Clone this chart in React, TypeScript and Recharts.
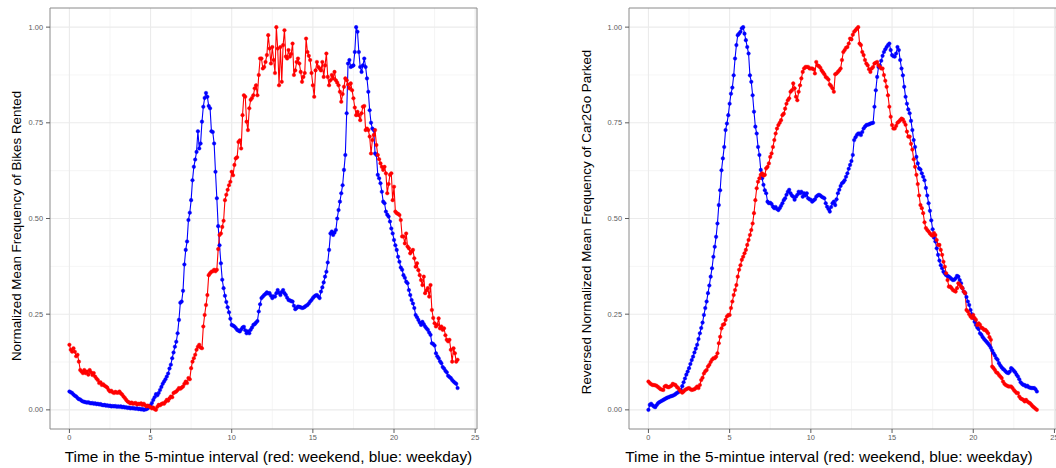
import { CartesianGrid, Label, Line, LineChart, ReferenceArea, XAxis, YAxis } from "recharts";

// 5-minute bins, 12 per hour, hours 0..23 (one row = one hour)
const BIKE_WEEKDAY = [
  0.048, 0.046, 0.044, 0.040, 0.037, 0.035, 0.031, 0.028, 0.027, 0.024, 0.022, 0.021,
  0.020, 0.019, 0.020, 0.018, 0.017, 0.018, 0.016, 0.017, 0.015, 0.016, 0.014, 0.015,
  0.013, 0.012, 0.013, 0.011, 0.012, 0.010, 0.011, 0.009, 0.010, 0.009, 0.010, 0.008,
  0.009, 0.008, 0.009, 0.007, 0.008, 0.006, 0.007, 0.005, 0.006, 0.004, 0.005, 0.004,
  0.004, 0.003, 0.004, 0.002, 0.003, 0.001, 0.002, 0.000, 0.001, 0.002, 0.004, 0.008,
  0.012, 0.018, 0.026, 0.033, 0.041, 0.038, 0.044, 0.052, 0.060, 0.068, 0.074, 0.080,
  0.087, 0.095, 0.108, 0.118, 0.135, 0.150, 0.165, 0.178, 0.200, 0.235, 0.280, 0.283,
  0.311, 0.380, 0.418, 0.440, 0.496, 0.515, 0.548, 0.600, 0.635, 0.654, 0.674, 0.728,
  0.683, 0.696, 0.753, 0.792, 0.815, 0.828, 0.818, 0.794, 0.788, 0.728, 0.726, 0.696,
  0.622, 0.553, 0.480, 0.430, 0.383, 0.340, 0.318, 0.298, 0.282, 0.268, 0.255, 0.238,
  0.222, 0.220, 0.218, 0.214, 0.209, 0.207, 0.205, 0.210, 0.215, 0.217, 0.208, 0.200,
  0.205, 0.200, 0.209, 0.215, 0.222, 0.224, 0.228, 0.232, 0.257, 0.276, 0.292, 0.296,
  0.300, 0.303, 0.307, 0.304, 0.305, 0.298, 0.292, 0.297, 0.296, 0.305, 0.313, 0.306,
  0.300, 0.308, 0.313, 0.305, 0.300, 0.293, 0.287, 0.286, 0.284, 0.283, 0.272, 0.263,
  0.266, 0.270, 0.269, 0.268, 0.266, 0.267, 0.269, 0.272, 0.274, 0.278, 0.283, 0.287,
  0.292, 0.296, 0.299, 0.300, 0.296, 0.292, 0.309, 0.320, 0.333, 0.348, 0.361, 0.385,
  0.418, 0.461, 0.466, 0.457, 0.463, 0.470, 0.500, 0.522, 0.544, 0.566, 0.587, 0.627,
  0.666, 0.775, 0.905, 0.914, 0.896, 0.898, 0.900, 0.935, 1.000, 0.988, 0.935, 0.896,
  0.883, 0.900, 0.918, 0.896, 0.866, 0.831, 0.783, 0.750, 0.735, 0.731, 0.670, 0.666,
  0.614, 0.605, 0.592, 0.570, 0.544, 0.540, 0.518, 0.510, 0.505, 0.492, 0.474, 0.461,
  0.444, 0.430, 0.418, 0.400, 0.387, 0.372, 0.366, 0.352, 0.345, 0.335, 0.331, 0.313,
  0.300, 0.287, 0.278, 0.266, 0.248, 0.242, 0.235, 0.228, 0.222, 0.230, 0.224, 0.218,
  0.213, 0.209, 0.202, 0.196, 0.174, 0.172, 0.168, 0.148, 0.140, 0.135, 0.127, 0.122,
  0.112, 0.108, 0.102, 0.098, 0.089, 0.086, 0.083, 0.078, 0.074, 0.071, 0.068, 0.057,
];

const BIKE_WEEKEND = [
  0.170, 0.157, 0.152, 0.161, 0.152, 0.140, 0.144, 0.126, 0.104, 0.100, 0.096, 0.104,
  0.096, 0.100, 0.092, 0.104, 0.098, 0.091, 0.096, 0.087, 0.082, 0.078, 0.070, 0.072,
  0.065, 0.067, 0.063, 0.061, 0.058, 0.052, 0.048, 0.050, 0.046, 0.044, 0.047, 0.045,
  0.045, 0.048, 0.043, 0.040, 0.035, 0.031, 0.026, 0.022, 0.020, 0.017, 0.019, 0.016,
  0.017, 0.018, 0.014, 0.016, 0.015, 0.017, 0.013, 0.016, 0.012, 0.009, 0.011, 0.009,
  0.007, 0.004, 0.006, 0.002, 0.000, 0.008, 0.013, 0.012, 0.015, 0.017, 0.016, 0.021,
  0.026, 0.024, 0.030, 0.035, 0.033, 0.044, 0.046, 0.048, 0.052, 0.057, 0.055, 0.058,
  0.061, 0.068, 0.074, 0.070, 0.083, 0.080, 0.109, 0.126, 0.135, 0.144, 0.157, 0.165,
  0.170, 0.163, 0.161, 0.218, 0.248, 0.274, 0.300, 0.352, 0.357, 0.361, 0.362, 0.366,
  0.362, 0.366, 0.420, 0.457, 0.461, 0.478, 0.494, 0.548, 0.562, 0.575, 0.587, 0.596,
  0.622, 0.613, 0.640, 0.657, 0.660, 0.700, 0.704, 0.683, 0.770, 0.822, 0.818, 0.753,
  0.731, 0.788, 0.810, 0.815, 0.822, 0.840, 0.848, 0.822, 0.875, 0.918, 0.918, 0.892,
  0.896, 0.909, 0.927, 0.979, 0.944, 0.905, 0.948, 0.914, 0.880, 1.000, 0.944, 0.848,
  0.948, 0.857, 0.953, 0.992, 0.923, 0.918, 0.940, 0.923, 0.930, 0.957, 0.875, 0.887,
  0.909, 0.918, 0.905, 0.883, 0.857, 0.870, 0.880, 0.970, 0.935, 0.925, 0.914, 0.880,
  0.848, 0.818, 0.887, 0.909, 0.896, 0.892, 0.887, 0.909, 0.870, 0.900, 0.931, 0.870,
  0.848, 0.861, 0.875, 0.866, 0.883, 0.861, 0.855, 0.848, 0.831, 0.805, 0.825, 0.844,
  0.866, 0.861, 0.850, 0.840, 0.853, 0.835, 0.814, 0.790, 0.770, 0.779, 0.770, 0.757,
  0.775, 0.792, 0.794, 0.731, 0.735, 0.731, 0.714, 0.670, 0.705, 0.718, 0.731, 0.692,
  0.666, 0.655, 0.644, 0.635, 0.627, 0.635, 0.618, 0.566, 0.590, 0.614, 0.618, 0.548,
  0.583, 0.518, 0.514, 0.512, 0.509, 0.496, 0.453, 0.453, 0.435, 0.461, 0.427, 0.422,
  0.409, 0.414, 0.418, 0.396, 0.374, 0.383, 0.365, 0.352, 0.339, 0.326, 0.348, 0.305,
  0.312, 0.318, 0.296, 0.326, 0.261, 0.240, 0.226, 0.218, 0.222, 0.239, 0.213, 0.218,
  0.209, 0.213, 0.195, 0.183, 0.179, 0.183, 0.157, 0.126, 0.161, 0.148, 0.126, 0.131,
];

const CAR_WEEKDAY = [
  0.000, 0.013, 0.016, 0.012, 0.009, 0.007, 0.012, 0.017, 0.020, 0.022, 0.024, 0.026,
  0.028, 0.030, 0.032, 0.033, 0.035, 0.036, 0.037, 0.039, 0.041, 0.044, 0.046, 0.049,
  0.052, 0.062, 0.072, 0.082, 0.092, 0.100, 0.109, 0.120, 0.130, 0.139, 0.150, 0.160,
  0.170, 0.185, 0.200, 0.214, 0.228, 0.248, 0.266, 0.283, 0.305, 0.325, 0.348, 0.370,
  0.400, 0.426, 0.452, 0.487, 0.535, 0.574, 0.626, 0.657, 0.687, 0.731, 0.748, 0.770,
  0.800, 0.826, 0.842, 0.874, 0.918, 0.953, 0.979, 0.983, 0.988, 0.997, 1.000, 0.983,
  0.966, 0.948, 0.931, 0.874, 0.857, 0.822, 0.779, 0.740, 0.722, 0.687, 0.666, 0.627,
  0.605, 0.588, 0.574, 0.566, 0.544, 0.540, 0.541, 0.538, 0.531, 0.527, 0.530, 0.525,
  0.522, 0.527, 0.533, 0.540, 0.548, 0.553, 0.562, 0.570, 0.575, 0.566, 0.560, 0.557,
  0.549, 0.557, 0.562, 0.570, 0.566, 0.570, 0.557, 0.566, 0.560, 0.566, 0.553, 0.550,
  0.549, 0.544, 0.547, 0.550, 0.557, 0.560, 0.562, 0.560, 0.557, 0.555, 0.553, 0.540,
  0.531, 0.525, 0.518, 0.530, 0.540, 0.544, 0.535, 0.550, 0.566, 0.575, 0.585, 0.592,
  0.595, 0.600, 0.609, 0.618, 0.630, 0.640, 0.650, 0.666, 0.705, 0.712, 0.718, 0.722,
  0.722, 0.718, 0.726, 0.735, 0.740, 0.744, 0.745, 0.746, 0.748, 0.749, 0.750, 0.792,
  0.835, 0.870, 0.896, 0.900, 0.912, 0.925, 0.935, 0.942, 0.948, 0.953, 0.957, 0.940,
  0.927, 0.924, 0.923, 0.931, 0.948, 0.940, 0.914, 0.892, 0.874, 0.844, 0.818, 0.800,
  0.785, 0.775, 0.755, 0.731, 0.705, 0.687, 0.661, 0.644, 0.631, 0.628, 0.618, 0.609,
  0.600, 0.580, 0.560, 0.540, 0.520, 0.495, 0.472, 0.450, 0.440, 0.422, 0.405, 0.390,
  0.378, 0.370, 0.361, 0.356, 0.352, 0.350, 0.348, 0.345, 0.342, 0.339, 0.340, 0.344,
  0.350, 0.348, 0.339, 0.331, 0.318, 0.309, 0.305, 0.295, 0.283, 0.274, 0.261, 0.250,
  0.240, 0.230, 0.222, 0.215, 0.211, 0.200, 0.196, 0.190, 0.185, 0.181, 0.177, 0.173,
  0.168, 0.162, 0.155, 0.148, 0.142, 0.135, 0.131, 0.122, 0.116, 0.111, 0.107, 0.104,
  0.100, 0.097, 0.096, 0.100, 0.109, 0.106, 0.102, 0.098, 0.092, 0.087, 0.080, 0.072,
  0.068, 0.065, 0.065, 0.061, 0.063, 0.059, 0.058, 0.057, 0.057, 0.057, 0.054, 0.048,
];

const CAR_WEEKEND = [
  0.074, 0.070, 0.067, 0.065, 0.065, 0.064, 0.063, 0.060, 0.057, 0.054, 0.053, 0.052,
  0.061, 0.063, 0.060, 0.059, 0.061, 0.063, 0.068, 0.066, 0.065, 0.060, 0.057, 0.052,
  0.048, 0.045, 0.048, 0.052, 0.054, 0.056, 0.057, 0.054, 0.052, 0.053, 0.054, 0.057,
  0.061, 0.057, 0.065, 0.078, 0.084, 0.095, 0.101, 0.104, 0.113, 0.118, 0.125, 0.131,
  0.135, 0.135, 0.139, 0.148, 0.174, 0.191, 0.213, 0.222, 0.224, 0.235, 0.244, 0.248,
  0.248, 0.266, 0.283, 0.300, 0.313, 0.326, 0.348, 0.366, 0.378, 0.392, 0.400, 0.409,
  0.418, 0.431, 0.444, 0.457, 0.470, 0.487, 0.514, 0.548, 0.579, 0.596, 0.605, 0.614,
  0.618, 0.612, 0.614, 0.631, 0.635, 0.644, 0.661, 0.670, 0.687, 0.705, 0.722, 0.735,
  0.744, 0.750, 0.757, 0.770, 0.774, 0.787, 0.800, 0.809, 0.814, 0.831, 0.835, 0.853,
  0.840, 0.818, 0.809, 0.831, 0.848, 0.866, 0.883, 0.892, 0.896, 0.896, 0.896, 0.892,
  0.892, 0.892, 0.890, 0.879, 0.909, 0.900, 0.898, 0.894, 0.887, 0.882, 0.877, 0.870,
  0.867, 0.863, 0.850, 0.846, 0.840, 0.831, 0.877, 0.879, 0.883, 0.887, 0.892, 0.914,
  0.935, 0.940, 0.946, 0.948, 0.957, 0.970, 0.968, 0.980, 0.988, 0.992, 0.996, 1.000,
  0.957, 0.953, 0.935, 0.927, 0.914, 0.905, 0.900, 0.890, 0.883, 0.892, 0.896, 0.905,
  0.907, 0.909, 0.900, 0.896, 0.892, 0.892, 0.875, 0.860, 0.844, 0.822, 0.792, 0.766,
  0.744, 0.735, 0.735, 0.742, 0.750, 0.753, 0.757, 0.761, 0.759, 0.752, 0.745, 0.727,
  0.714, 0.714, 0.695, 0.680, 0.655, 0.635, 0.614, 0.590, 0.560, 0.535, 0.527, 0.514,
  0.490, 0.475, 0.470, 0.466, 0.461, 0.457, 0.455, 0.462, 0.457, 0.444, 0.431, 0.431,
  0.418, 0.405, 0.387, 0.374, 0.357, 0.339, 0.322, 0.322, 0.318, 0.313, 0.311, 0.309,
  0.318, 0.331, 0.327, 0.322, 0.318, 0.309, 0.305, 0.261, 0.257, 0.250, 0.244, 0.240,
  0.248, 0.240, 0.235, 0.222, 0.226, 0.222, 0.215, 0.213, 0.209, 0.209, 0.205, 0.200,
  0.190, 0.183, 0.113, 0.109, 0.104, 0.098, 0.096, 0.091, 0.087, 0.083, 0.074, 0.068,
  0.065, 0.063, 0.061, 0.061, 0.061, 0.057, 0.052, 0.048, 0.044, 0.044, 0.035, 0.030,
  0.028, 0.026, 0.022, 0.026, 0.022, 0.019, 0.017, 0.013, 0.009, 0.006, 0.003, 0.000,
];

const X_TICKS = [0, 5, 10, 15, 20, 25];
const X_MINOR = [2.5, 7.5, 12.5, 17.5, 22.5];
const Y_TICKS = [0, 0.25, 0.5, 0.75, 1];
const Y_MINOR = [0.125, 0.375, 0.625, 0.875];
const X_TITLE = "Time in the 5-mintue interval (red: weekend, blue: weekday)";

// ggplot-style 5% expansion around the data range
const X_DOMAIN: [number, number] = [-1.196, 25.113];
const Y_DOMAIN: [number, number] = [-0.05, 1.05];

const FONT = '"Liberation Sans", Arial, Helvetica, sans-serif';
const RED = "#ff0000";
const BLUE = "#0000ff";
const TICK_GREY = "#5c5c5c";

interface PanelProps {
  weekday: number[];
  weekend: number[];
  yTitle: string;
  width: number;
  yAxisWidth: number;
  marginRight: number;
  yTitleX: number;
  yTitleY: number;
  xTitleX: number;
}

function Panel({ weekday, weekend, yTitle, width, yAxisWidth, marginRight, yTitleX, yTitleY, xTitleX }: PanelProps) {
  const data = weekday.map((v, i) => ({ t: i / 12, weekday: v, weekend: weekend[i] }));

  return (
    <LineChart
      width={width}
      height={468}
      data={data}
      margin={{ top: 8, right: marginRight, bottom: 0, left: 0 }}
      style={{ fontFamily: FONT }}
    >
      <CartesianGrid stroke="#f3f3f3" strokeWidth={0.8} verticalValues={X_MINOR} horizontalValues={Y_MINOR} />
      <CartesianGrid stroke="#ebebeb" strokeWidth={1.1} verticalValues={X_TICKS} horizontalValues={Y_TICKS} />
      <XAxis
        type="number"
        dataKey="t"
        domain={X_DOMAIN}
        ticks={X_TICKS}
        interval={0}
        allowDataOverflow
        height={39}
        axisLine={false}
        tickSize={4}
        tickMargin={2}
        tickLine={{ stroke: TICK_GREY }}
        tick={{ fontSize: 7.4, fill: TICK_GREY, stroke: "none" }}
      >
        <Label
          content={() => (
            <text x={xTitleX} y={462} textAnchor="middle" fontSize={15.4} fill="#000">
              {X_TITLE}
            </text>
          )}
        />
      </XAxis>
      <YAxis
        type="number"
        domain={Y_DOMAIN}
        ticks={Y_TICKS}
        interval={0}
        allowDataOverflow
        width={yAxisWidth}
        axisLine={false}
        tickSize={4}
        tickMargin={3}
        tickLine={{ stroke: TICK_GREY }}
        tick={{ fontSize: 7.4, fill: TICK_GREY, stroke: "none" }}
        tickFormatter={(v: number) => v.toFixed(2)}
      >
        <Label
          content={() => (
            <text
              x={yTitleX}
              y={yTitleY}
              transform={`rotate(-90 ${yTitleX} ${yTitleY})`}
              textAnchor="middle"
              fontSize={13.4}
              fill="#000"
            >
              {yTitle}
            </text>
          )}
        />
      </YAxis>
      <Line
        type="linear"
        dataKey="weekday"
        stroke={BLUE}
        strokeWidth={1.1}
        dot={{ r: 1.8, fill: BLUE, stroke: BLUE, strokeWidth: 0.4 }}
        activeDot={false}
        isAnimationActive={false}
      />
      <Line
        type="linear"
        dataKey="weekend"
        stroke={RED}
        strokeWidth={1.1}
        dot={{ r: 1.8, fill: RED, stroke: RED, strokeWidth: 0.4 }}
        activeDot={false}
        isAnimationActive={false}
      />
      <ReferenceArea
        x1={X_DOMAIN[0]}
        x2={X_DOMAIN[1]}
        y1={Y_DOMAIN[0]}
        y2={Y_DOMAIN[1]}
        fill="none"
        stroke="#8a8a8a"
        strokeWidth={1}
        ifOverflow="visible"
      />
    </LineChart>
  );
}

export default function App() {
  return (
    <div
      style={{
        position: "fixed",
        left: 0,
        top: 0,
        width: 1056,
        height: 468,
        overflow: "hidden",
        background: "#fff",
      }}
    >
      <div style={{ position: "absolute", left: 0, top: 0 }}>
        <Panel
          weekday={BIKE_WEEKDAY}
          weekend={BIKE_WEEKEND}
          yTitle="Normalized Mean Frequency of Bikes Rented"
          width={480}
          yAxisWidth={50}
          marginRight={3}
          yTitleX={20.7}
          yTitleY={226}
          xTitleX={268.5}
        />
      </div>
      <div style={{ position: "absolute", left: 560, top: 0 }}>
        <Panel
          weekday={CAR_WEEKDAY}
          weekend={CAR_WEEKEND}
          yTitle="Reversed Normalized Mean Frequency of Car2Go Parked"
          width={500}
          yAxisWidth={69}
          marginRight={3.7}
          yTitleX={30.7}
          yTitleY={222}
          xTitleX={269}
        />
      </div>
    </div>
  );
}
